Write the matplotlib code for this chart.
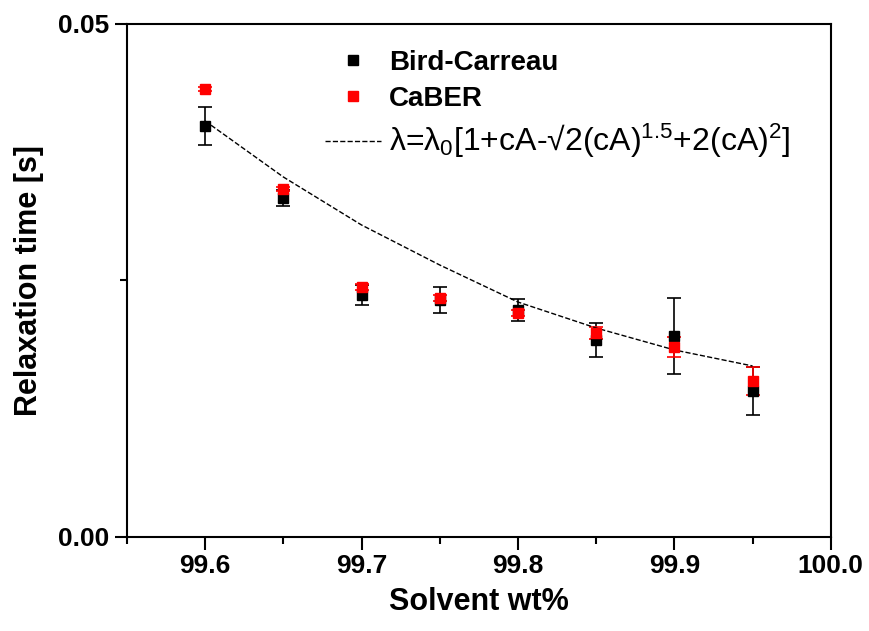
import numpy as np
import matplotlib
matplotlib.use("Agg")
import matplotlib.pyplot as plt
from matplotlib.lines import Line2D

plt.rcParams['font.family'] = ['Liberation Sans', 'DejaVu Sans']
plt.rcParams['mathtext.fontset'] = 'custom'
plt.rcParams['mathtext.rm'] = 'Liberation Sans'
plt.rcParams['mathtext.it'] = 'Liberation Sans:italic'

# data
solvent = [99.60, 99.65, 99.70, 99.75, 99.80, 99.85, 99.90, 99.95]
bird_carreau = [0.04006, 0.03304, 0.02359, 0.0231, 0.02213, 0.0192, 0.01959, 0.01423]
bird_err = [0.00185, 0.0008, 0.001, 0.00127, 0.00107, 0.0017, 0.0037, 0.0023]
caber = [0.04366, 0.03392, 0.02437, 0.0233, 0.02183, 0.01988, 0.01852, 0.0152]
caber_err = [0.0002, 0.0002, 0.0003, 0.0003, 0.0003, 0.0006, 0.001, 0.0014]
fit = [0.04055, 0.03509, 0.03041, 0.02651, 0.0229, 0.02037, 0.01823, 0.01667]

fig = plt.figure(figsize=(8.69, 6.31), dpi=100)
ax = fig.add_axes([0.146, 0.149, 0.81, 0.813])

ax.errorbar(solvent, bird_carreau, yerr=bird_err, fmt='s', color='black',
            ms=7, capsize=5, elinewidth=1.2, capthick=1.2)
ax.errorbar(solvent, caber, yerr=caber_err, fmt='s', color='red',
            ms=7, capsize=5, elinewidth=1.2, capthick=1.2)
ax.plot(solvent, fit, '--', color='black', lw=1)

ax.set_xlim(99.55, 100.0)
ax.set_ylim(0, 0.05)
ax.set_xticks([99.6, 99.7, 99.8, 99.9, 100.0])
ax.set_xticks([99.55, 99.65, 99.75, 99.85, 99.95], minor=True)
ax.set_yticks([0.0, 0.05])
ax.set_yticklabels(['0.00', '0.05'])
ax.set_yticks([0.025], minor=True)
ax.tick_params(which='major', direction='out', length=9, width=1.5, labelsize=19)
ax.tick_params(which='minor', direction='out', length=5, width=1.5)
for lab in ax.get_xticklabels() + ax.get_yticklabels():
    lab.set_fontweight('bold')
for s in ax.spines.values():
    s.set_linewidth(1.5)

ax.set_xlabel('Solvent wt%', fontsize=22, fontweight='bold', labelpad=6)
ax.set_ylabel('Relaxation time [s]', fontsize=22, fontweight='bold', labelpad=10)

handles = [
    Line2D([], [], ls='none', marker='s', ms=7, color='black'),
    Line2D([], [], ls='none', marker='s', ms=7, color='red'),
    Line2D([], [], ls='--', lw=1, color='black'),
]
labels = ['Bird-Carreau', 'CaBER', r'λ=λ$_0$[1+cA-√2(cA)$^{1.5}$+2(cA)$^2$]']
leg = ax.legend(handles, labels, loc='upper left', bbox_to_anchor=(0.246, 0.998),
                frameon=False, handlelength=2.0, handletextpad=0.3,
                labelspacing=0.35, fontsize=20)
texts = leg.get_texts()
texts[0].set_fontweight('bold')
texts[1].set_fontweight('bold')
texts[2].set_fontsize(23)

fig.savefig('out.png', dpi=100)
